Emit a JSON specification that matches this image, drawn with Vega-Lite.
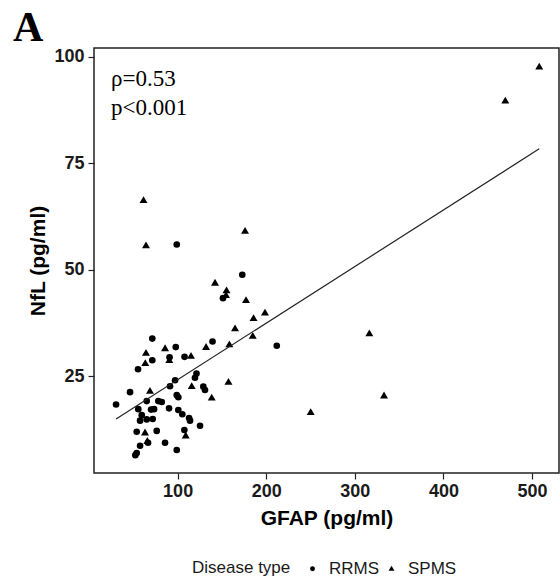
{
  "$schema": "https://vega.github.io/schema/vega-lite/v6.json",
  "autosize": "none",
  "width": 465,
  "height": 425,
  "padding": {"left": 94, "top": 48, "right": 1, "bottom": 108},
  "background": "white",
  "config": {
    "view": {"stroke": "#222222", "strokeWidth": 1.5},
    "axis": {"grid": false, "domain": false, "tickColor": "#222222", "tickSize": 6, "tickWidth": 1.2, "labelFont": "Liberation Sans", "labelFontWeight": "bold", "labelFontSize": 18, "labelColor": "#1a1a1a", "titleFont": "Liberation Sans", "titleFontWeight": "bold", "titleFontSize": 21, "titleColor": "black"}
  },
  "datasets": {
    "pts": [
      {"g": 508.2, "n": 97.7, "type": "SPMS"},
      {"g": 469.9, "n": 89.7, "type": "SPMS"},
      {"g": 61.5, "n": 66.3, "type": "SPMS"},
      {"g": 176.1, "n": 59.1, "type": "SPMS"},
      {"g": 64.3, "n": 55.7, "type": "SPMS"},
      {"g": 142.2, "n": 46.9, "type": "SPMS"},
      {"g": 155.2, "n": 45.1, "type": "SPMS"},
      {"g": 154.6, "n": 44.0, "type": "SPMS"},
      {"g": 177.2, "n": 42.8, "type": "SPMS"},
      {"g": 198.6, "n": 39.9, "type": "SPMS"},
      {"g": 185.7, "n": 38.6, "type": "SPMS"},
      {"g": 164.8, "n": 36.2, "type": "SPMS"},
      {"g": 184.8, "n": 34.4, "type": "SPMS"},
      {"g": 316.4, "n": 35.0, "type": "SPMS"},
      {"g": 158.4, "n": 32.4, "type": "SPMS"},
      {"g": 132.1, "n": 31.8, "type": "SPMS"},
      {"g": 85.8, "n": 31.5, "type": "SPMS"},
      {"g": 64.3, "n": 30.4, "type": "SPMS"},
      {"g": 115.1, "n": 29.7, "type": "SPMS"},
      {"g": 90.6, "n": 28.7, "type": "SPMS"},
      {"g": 63.5, "n": 28.0, "type": "SPMS"},
      {"g": 157.4, "n": 23.6, "type": "SPMS"},
      {"g": 115.9, "n": 22.6, "type": "SPMS"},
      {"g": 68.8, "n": 21.5, "type": "SPMS"},
      {"g": 138.5, "n": 19.9, "type": "SPMS"},
      {"g": 333.0, "n": 20.4, "type": "SPMS"},
      {"g": 250.2, "n": 16.5, "type": "SPMS"},
      {"g": 63.2, "n": 11.7, "type": "SPMS"},
      {"g": 65.8, "n": 9.7, "type": "SPMS"},
      {"g": 109.1, "n": 11.0, "type": "SPMS"},
      {"g": 99.0, "n": 55.9, "type": "RRMS"},
      {"g": 173.0, "n": 48.8, "type": "RRMS"},
      {"g": 151.2, "n": 43.3, "type": "RRMS"},
      {"g": 211.9, "n": 32.1, "type": "RRMS"},
      {"g": 139.4, "n": 33.1, "type": "RRMS"},
      {"g": 71.4, "n": 33.8, "type": "RRMS"},
      {"g": 97.9, "n": 31.8, "type": "RRMS"},
      {"g": 107.8, "n": 29.5, "type": "RRMS"},
      {"g": 90.9, "n": 29.4, "type": "RRMS"},
      {"g": 71.4, "n": 28.7, "type": "RRMS"},
      {"g": 55.3, "n": 26.6, "type": "RRMS"},
      {"g": 121.3, "n": 25.6, "type": "RRMS"},
      {"g": 119.6, "n": 24.6, "type": "RRMS"},
      {"g": 97.1, "n": 24.0, "type": "RRMS"},
      {"g": 91.4, "n": 22.6, "type": "RRMS"},
      {"g": 129.0, "n": 22.5, "type": "RRMS"},
      {"g": 130.9, "n": 21.7, "type": "RRMS"},
      {"g": 46.3, "n": 21.2, "type": "RRMS"},
      {"g": 99.0, "n": 20.5, "type": "RRMS"},
      {"g": 100.8, "n": 20.0, "type": "RRMS"},
      {"g": 65.1, "n": 19.1, "type": "RRMS"},
      {"g": 78.2, "n": 19.1, "type": "RRMS"},
      {"g": 82.1, "n": 18.9, "type": "RRMS"},
      {"g": 30.5, "n": 18.3, "type": "RRMS"},
      {"g": 55.6, "n": 17.2, "type": "RRMS"},
      {"g": 70.0, "n": 17.1, "type": "RRMS"},
      {"g": 73.4, "n": 17.2, "type": "RRMS"},
      {"g": 90.3, "n": 17.4, "type": "RRMS"},
      {"g": 100.8, "n": 17.0, "type": "RRMS"},
      {"g": 105.3, "n": 16.0, "type": "RRMS"},
      {"g": 59.5, "n": 15.8, "type": "RRMS"},
      {"g": 65.1, "n": 14.8, "type": "RRMS"},
      {"g": 71.9, "n": 14.9, "type": "RRMS"},
      {"g": 57.6, "n": 14.5, "type": "RRMS"},
      {"g": 112.9, "n": 15.1, "type": "RRMS"},
      {"g": 114.0, "n": 14.5, "type": "RRMS"},
      {"g": 125.3, "n": 13.3, "type": "RRMS"},
      {"g": 53.8, "n": 11.9, "type": "RRMS"},
      {"g": 76.4, "n": 12.1, "type": "RRMS"},
      {"g": 107.6, "n": 12.3, "type": "RRMS"},
      {"g": 66.6, "n": 9.3, "type": "RRMS"},
      {"g": 85.8, "n": 9.3, "type": "RRMS"},
      {"g": 57.6, "n": 8.6, "type": "RRMS"},
      {"g": 99.0, "n": 7.6, "type": "RRMS"},
      {"g": 53.8, "n": 6.9, "type": "RRMS"},
      {"g": 52.3, "n": 6.4, "type": "RRMS"}
    ],
    "fit": [
      {"g": 30.5, "n": 14.9},
      {"g": 508.2, "n": 78.4}
    ],
    "labels": [
      {"g": 24.8, "n": 93.2, "t": "ρ=0.53"},
      {"g": 24.8, "n": 86.4, "t": "p<0.001"}
    ],
    "panel": [
      {"g": -85.8, "n": 103.8, "t": "A"}
    ]
  },
  "layer": [
    {
      "data": {"name": "pts"},
      "mark": {"type": "point", "filled": true, "opacity": 1, "color": "black", "size": 44},
      "encoding": {
        "x": {"field": "g", "type": "quantitative", "scale": {"domain": [5.6, 530.5], "nice": false, "zero": false}, "axis": {"values": [100, 200, 300, 400, 500], "title": "GFAP (pg/ml)", "labelPadding": 3, "titlePadding": 7}},
        "y": {"field": "n", "type": "quantitative", "scale": {"domain": [2.2, 102.1], "nice": false, "zero": false}, "axis": {"values": [25, 50, 75, 100], "title": "NfL (pg/ml)", "labelPadding": 4, "titlePadding": 5}},
        "shape": {"field": "type", "type": "nominal", "scale": {"domain": ["RRMS", "SPMS"], "range": ["circle", "M0,-1.2L1.2,0.85L-1.2,0.85Z"]},
          "legend": {"title": "Disease type", "orient": "none", "legendX": 98, "legendY": 512, "direction": "horizontal", "titleOrient": "left", "titleFont": "Liberation Sans", "titleFontWeight": "normal", "titleFontSize": 17, "titleColor": "#1a1a1a", "titlePadding": 13, "labelFont": "Liberation Sans", "labelFontSize": 17, "labelColor": "#1a1a1a", "labelOffset": 8, "symbolSize": 24, "symbolFillColor": "black", "symbolStrokeColor": "black", "columnPadding": 3}}
      }
    },
    {
      "data": {"name": "fit"},
      "mark": {"type": "line", "color": "#222222", "strokeWidth": 1.2},
      "encoding": {
        "x": {"field": "g", "type": "quantitative", "scale": {"domain": [5.6, 530.5], "nice": false, "zero": false}},
        "y": {"field": "n", "type": "quantitative", "scale": {"domain": [2.2, 102.1], "nice": false, "zero": false}}
      }
    },
    {
      "data": {"name": "labels"},
      "mark": {"type": "text", "align": "left", "baseline": "alphabetic", "font": "Liberation Serif", "fontSize": 23, "color": "black"},
      "encoding": {
        "x": {"field": "g", "type": "quantitative", "scale": {"domain": [5.6, 530.5], "nice": false, "zero": false}},
        "y": {"field": "n", "type": "quantitative", "scale": {"domain": [2.2, 102.1], "nice": false, "zero": false}},
        "text": {"field": "t", "type": "nominal"}
      }
    },
    {
      "data": {"name": "panel"},
      "mark": {"type": "text", "align": "left", "baseline": "alphabetic", "font": "Liberation Serif", "fontSize": 42, "fontWeight": "bold", "color": "black", "clip": false},
      "encoding": {
        "x": {"field": "g", "type": "quantitative", "scale": {"domain": [5.6, 530.5], "nice": false, "zero": false}},
        "y": {"field": "n", "type": "quantitative", "scale": {"domain": [2.2, 102.1], "nice": false, "zero": false}},
        "text": {"field": "t", "type": "nominal"}
      }
    }
  ]
}
